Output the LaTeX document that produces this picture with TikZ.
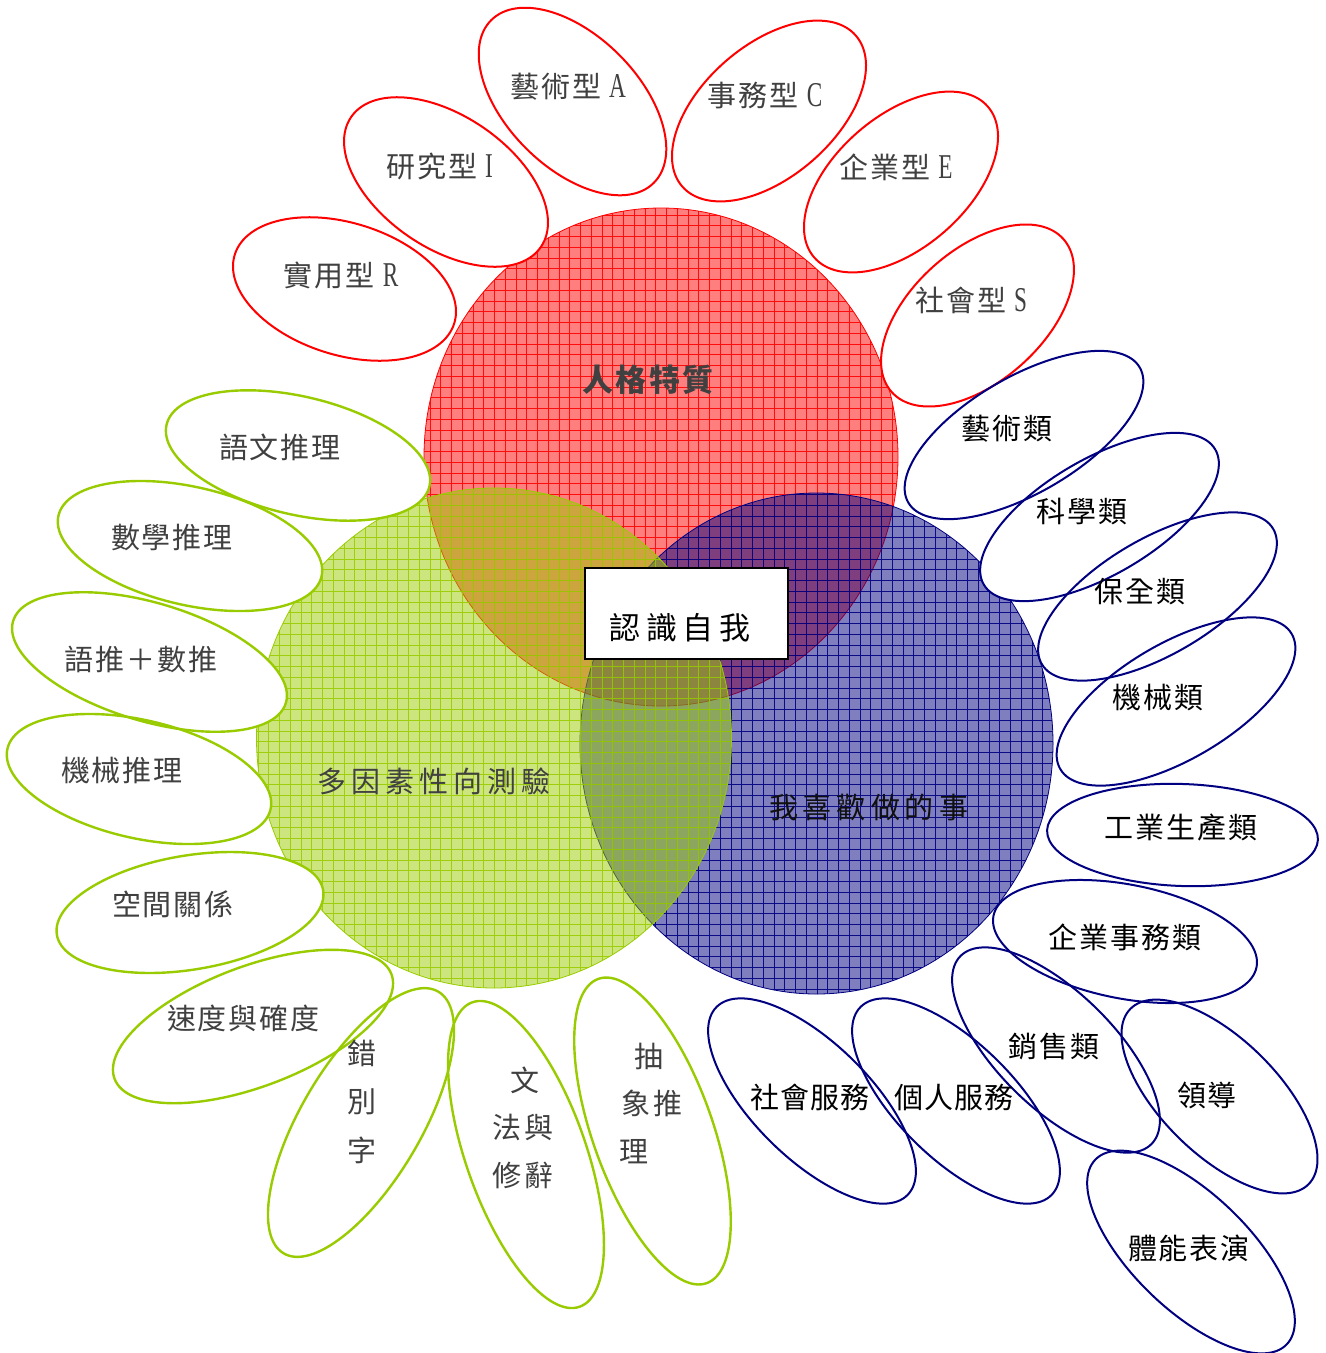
\documentclass[tikz,border=0pt]{standalone}
\usepackage{fontspec}
\newfontfamily\cjk{Noto Sans CJK TC}
\newfontfamily\lat{Liberation Serif}
\usetikzlibrary{shapes.geometric}
\definecolor{pred}{RGB}{255,0,0}
\definecolor{pgreen}{RGB}{153,204,0}
\definecolor{pnavy}{RGB}{0,0,128}
\definecolor{tgray}{RGB}{64,64,64}
\definecolor{tdark}{RGB}{16,16,16}
\newdimen\mygap
\mygap=2pt
\def\spcA#1{#1\spcB}
\def\spcB#1{\ifx\relax#1\else\hspace{\mygap}#1\expandafter\spcB\fi}
\newcommand\spc[2]{{\mygap=#1\relax\spcA#2\relax}}
\newcommand\LL[1]{\hspace{8pt}\scalebox{0.8}[1.2]{\lat #1}}
\tikzset{
  lbl/.style={inner sep=0pt, font=\cjk\fontsize{29}{32}\selectfont},
  rl/.style={lbl, text=tgray},
  gl/.style={lbl, text=tgray},
  bl/.style={lbl, text=black},
  petalfill/.style={ellipse, fill=white, inner sep=0pt, outer sep=0pt},
  petalline/.style={ellipse, inner sep=0pt, outer sep=0pt},
}
\begin{document}
\begin{tikzpicture}[x=1pt,y=-1pt]
\useasboundingbox (0,0) rectangle (1326,1353);
% ---- circles: red, blue, green ----
\begin{scope}
  \clip (661,457) ellipse [x radius=237pt, y radius=249pt];
  \fill[pred, opacity=.5] (400,720) rectangle (920,190);
  \draw[pred, line width=.9pt, opacity=.9, step=10.75pt] (400,720) grid (920,190);
\end{scope}
\draw[pred, line width=.8pt] (661,457) ellipse [x radius=237pt, y radius=249pt];
\begin{scope}
  \clip (816.5,743.5) ellipse [x radius=236.5pt, y radius=250.5pt];
  \fill[pnavy, opacity=.5] (570,1000) rectangle (1060,485);
  \draw[pnavy, line width=.9pt, opacity=.9, step=10.75pt] (570,1000) grid (1060,485);
\end{scope}
\draw[pnavy, line width=.8pt] (816.5,743.5) ellipse [x radius=236.5pt, y radius=250.5pt];
\begin{scope}
  \clip (494,738) ellipse [x radius=237.5pt, y radius=250pt];
  \fill[pgreen, opacity=.5] (250,995) rectangle (740,480);
  \draw[pgreen, line width=.9pt, opacity=.9, step=10.75pt] (250,995) grid (740,480);
\end{scope}
\draw[pgreen, line width=.8pt] (494,738) ellipse [x radius=237.5pt, y radius=250pt];
% ---- petals ----
\def\petallist{
 rR/344.5/289/115/66/-17.4/pred/2,
 rI/446/182/115/66/-34.4/pred/2,
 rA/572.5/101.5/115/66/-45/pred/2,
 rC/769/111/115/66/41/pred/2,
 rE/901/182/115/66/41/pred/2,
 rS/977.5/315.5/115/66/41.7/pred/2,
 g1/298/455.5/135/59/-13.2/pgreen/2.4,
 g2/190/546/135/59/-13/pgreen/2.4,
 g3/149.5/662/142.4/59/-16.7/pgreen/2.4,
 g4/139/779/135/59/-13/pgreen/2.4,
 g5/190/912.5/135/57/9.5/pgreen/2.4,
 g6/253/1026.5/148/60/20.7/pgreen/2.4,
 g7/361/1122.5/152/60/59.4/pgreen/2.4,
 g8/526/1154.5/161.4/60/-70.6/pgreen/2.4,
 g9/652.5/1131/161.5/60/-70.4/pgreen/2.4,
 b1/1024/435/134/58/30.3/pnavy/2,
 b2/1099.5/517/134/58/30.3/pnavy/2,
 b3/1157.5/596.5/134/58/30.3/pnavy/2,
 b4/1176/701.5/134/58/30.3/pnavy/2,
 b5/1182.5/835/135.5/51/-2/pnavy/2,
 b6/1125/941.5/134/57/-11/pnavy/2,
 b7/1056/1050/134/58/-44.5/pnavy/2,
 b8/1219.5/1096.5/125/58/-44.5/pnavy/2,
 b9/1191/1252/133/58/-44/pnavy/2,
 b10/812/1101/134/58/-44.5/pnavy/2,
 b11/956/1101/134/58/-44.5/pnavy/2}
\foreach \n/\x/\y/\a/\b/\r/\c/\w in \petallist {
  \node[petalfill, minimum width={2*\a*1pt}, minimum height={2*\b*1pt}, rotate=\r] (\n) at (\x,\y) {};
}
\foreach \n/\x/\y/\a/\b/\r/\c/\w in \petallist {
  \node[petalline, draw=\c, line width=\w pt, minimum width={2*\a*1pt}, minimum height={2*\b*1pt}, rotate=\r] (\n-o) at (\x,\y) {};
}
% ---- centre box ----
\node[draw=black, line width=2.5pt, fill=white, minimum width=203pt, minimum height=91pt, inner sep=0pt] (self) at (686.5,613.5) {};
\node[lbl, text=black, font=\cjk\fontsize{31}{34}\selectfont] (selft) at (680,628) {\spc{5.7pt}{認識自我}};
% ---- circle labels ----
\node[lbl, text=tgray, font=\cjk\bfseries\fontsize{31}{34}\selectfont] (lred) at (648,380) {\spc{2.5pt}{人格特質}};
\node[lbl, text=tgray] (lgreen) at (434,781) {\spc{5pt}{多因素性向測驗}};
\node[lbl, text=tdark] (lblue) at (868.5,807) {\spc{5pt}{我喜歡做的事}};
% ---- red petal texts ----
\node[rl] (tR) at (341,275) {\spc{2pt}{實用型}\LL{R}};
\node[rl] (tI) at (439.5,167) {\spc{2pt}{研究型}\LL{I}};
\node[rl] (tA) at (568,87) {\spc{2pt}{藝術型}\LL{A}};
\node[rl] (tC) at (765,96) {\spc{2pt}{事務型}\LL{C}};
\node[rl] (tE) at (896,167) {\spc{2pt}{企業型}\LL{E}};
\node[rl] (tS) at (971,300) {\spc{2pt}{社會型}\LL{S}};
% ---- green petal texts ----
\node[gl] (t1) at (280,447) {\spc{2pt}{語文推理}};
\node[gl] (t2) at (172,537) {\spc{2pt}{數學推理}};
\node[gl] (t3) at (141,659) {\spc{2pt}{語推＋數推}};
\node[gl] (t4) at (122,770) {\spc{2pt}{機械推理}};
\node[gl] (t5) at (173,904) {\spc{2pt}{空間關係}};
\node[gl] (t6) at (243.5,1018) {\spc{2pt}{速度與確度}};
\node[gl] (t7a) at (362,1053) {錯};
\node[gl] (t7b) at (362,1102) {別};
\node[gl] (t7c) at (362,1150) {字};
\node[gl] (t8a) at (525,1080) {文};
\node[gl] (t8b) at (523,1127) {\spc{3pt}{法與}};
\node[gl] (t8c) at (523,1175) {\spc{3pt}{修辭}};
\node[gl] (t9a) at (649,1056) {抽};
\node[gl] (t9b) at (652,1103) {\spc{3pt}{象推}};
\node[gl] (t9c) at (634,1152) {理};
% ---- blue petal texts ----
\node[bl] (u1) at (1007,429) {\spc{2pt}{藝術類}};
\node[bl] (u2) at (1082,511) {\spc{2pt}{科學類}};
\node[bl] (u3) at (1140,592) {\spc{2pt}{保全類}};
\node[bl] (u4) at (1158,697) {\spc{2pt}{機械類}};
\node[bl] (u5) at (1181,827) {\spc{2pt}{工業生產類}};
\node[bl] (u6) at (1125,937) {\spc{2pt}{企業事務類}};
\node[bl] (u7) at (1054,1046) {\spc{2pt}{銷售類}};
\node[bl] (u8) at (1207,1095) {\spc{2pt}{領導}};
\node[bl] (u9) at (1189,1248) {\spc{2pt}{體能表演}};
\node[bl] (u10) at (810,1097) {\spc{1pt}{社會服務}};
\node[bl] (u11) at (954,1097) {\spc{1pt}{個人服務}};
\end{tikzpicture}
\end{document}
